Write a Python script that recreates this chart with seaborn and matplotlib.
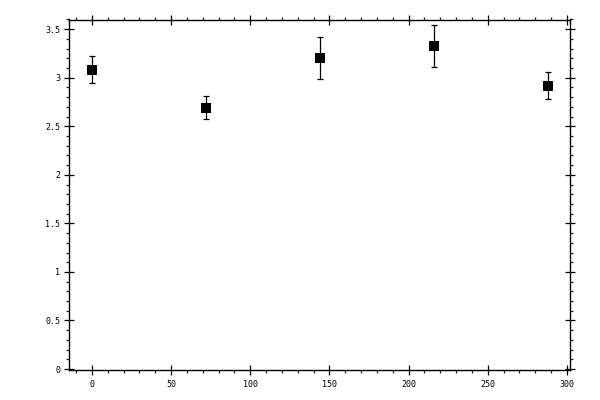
import matplotlib
matplotlib.use("Agg")
import matplotlib.pyplot as plt
from matplotlib.ticker import MultipleLocator, FuncFormatter
import seaborn as sns
import pandas as pd

x_vals = [0, 72, 144, 216, 288]
y_vals = [3.085, 2.693, 3.208, 3.33, 2.918]
y_err = [0.14, 0.117, 0.216, 0.216, 0.138]

sns.set_style("ticks")
plt.rcParams['font.family'] = ['DejaVu Sans Mono', 'DejaVu Sans']

df = pd.DataFrame({"x": x_vals, "y": y_vals, "err": y_err})

fig = plt.figure(figsize=(6, 4), dpi=100)
ax = fig.add_axes([69/600, 30/400, (570-69)/600, (370-19.5)/400])

ax.errorbar(df["x"], df["y"], yerr=df["err"], fmt="none", ecolor="black",
            elinewidth=0.9, capsize=2.5, capthick=0.9, zorder=2)
sns.scatterplot(data=df, x="x", y="y", marker="s", color="black", s=55,
                edgecolor="black", linewidth=0, ax=ax, zorder=3)

ax.set_xlim(-14.5, 302)
ax.set_ylim(-0.01, 3.6)
ax.set_xlabel("")
ax.set_ylabel("")

ax.xaxis.set_major_locator(MultipleLocator(50))
ax.xaxis.set_minor_locator(MultipleLocator(10))
ax.yaxis.set_major_locator(MultipleLocator(0.5))
ax.yaxis.set_minor_locator(MultipleLocator(0.1))

def fmt(v, pos):
    s = f"{v:g}"
    return s
ax.xaxis.set_major_formatter(FuncFormatter(fmt))
ax.yaxis.set_major_formatter(FuncFormatter(fmt))

for sp in ax.spines.values():
    sp.set_visible(True)
    sp.set_color("black")
    sp.set_linewidth(1.0)

ax.tick_params(which="major", direction="inout", length=6.5, width=0.9,
               top=True, right=True, bottom=True, left=True,
               labelsize=6, colors="black", pad=3)
ax.tick_params(which="minor", direction="out", length=2.5, width=0.9,
               top=True, right=True, bottom=True, left=True)
ax.tick_params(axis="x", which="major", pad=4)

fig.savefig("out.png", dpi=100)
